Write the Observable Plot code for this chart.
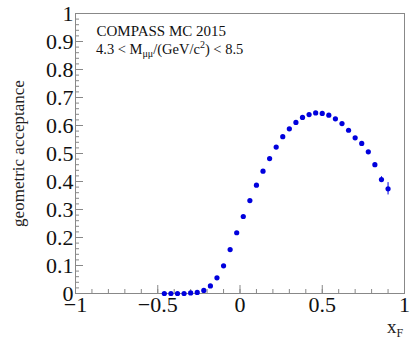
<!DOCTYPE html>
<html>
<head>
<meta charset="utf-8">
<script src="https://cdn.jsdelivr.net/npm/d3@7"></script>
<script src="https://cdn.jsdelivr.net/npm/@observablehq/plot@0.6"></script>
<style>
  html, body { margin: 0; padding: 0; background: #fff; }
  #chart { width: 414px; height: 346px; }
  #chart svg text { font-family: 'Liberation Serif', 'Times New Roman', serif !important; }
</style>
</head>
<body>
<div id="chart"></div>
<script>
const xF = [-0.46, -0.42, -0.38, -0.34, -0.30, -0.26, -0.22, -0.18, -0.14, -0.10,
            -0.06, -0.02, 0.02, 0.06, 0.10, 0.14, 0.18, 0.22, 0.26, 0.30,
            0.34, 0.38, 0.42, 0.46, 0.50, 0.54, 0.58, 0.62, 0.66, 0.70,
            0.74, 0.78, 0.82, 0.86, 0.90];
const acceptance = [0.000, 0.000, 0.000, 0.000, 0.002, 0.004, 0.011, 0.027, 0.056, 0.099,
                    0.157, 0.217, 0.275, 0.332, 0.387, 0.437, 0.482, 0.523, 0.560, 0.588,
                    0.611, 0.629, 0.639, 0.645, 0.643, 0.637, 0.624, 0.607, 0.583, 0.556,
                    0.536, 0.506, 0.460, 0.407, 0.374];
const errors = [0, 0, 0, 0, 0, 0, 0, 0, 0, 0,
                0, 0, 0, 0, 0, 0, 0, 0, 0, 0,
                0, 0, 0, 0, 0, 0, 0, 0, 0, 0,
                0, 0, 0.006, 0.010, 0.022];
const xMajorTicks = [-1, -0.5, 0, 0.5, 1];
const xMinorTicks = d3.range(-10, 11).map(i => i / 10);
const yMajorTicks = d3.range(0, 11).map(i => i / 10);
const yMinorTicks = d3.range(0, 51).map(i => i / 50);
const yTitle = "geometric acceptance";
const title1 = "COMPASS MC 2015";

const data = xF.map((x, i) => ({x, y: acceptance[i], e: errors[i]}));
const font = "'Liberation Serif', 'Times New Roman', serif";
const blue = "#0000dd";
const fmt = d => String(d).replace("-", "\u2212");

const chart = Plot.plot({
  width: 414,
  height: 346,
  marginLeft: 75,
  marginRight: 10,
  marginTop: 13,
  marginBottom: 53,
  style: {fontFamily: font, background: "#fff", color: "#000"},
  x: {domain: [-1, 1]},
  y: {domain: [0, 1]},
  marks: [
    Plot.axisX({ticks: xMinorTicks, tickSize: -4, text: null, stroke: "#888", label: null}),
    Plot.axisX({ticks: xMajorTicks, tickSize: -8, text: null, stroke: "#888", label: null}),
    Plot.axisX({ticks: xMajorTicks, tickSize: 0, tickPadding: 3, fontSize: 22, tickFormat: fmt, fill: "#111", label: null}),
    Plot.axisY({ticks: yMinorTicks, tickSize: -4, text: null, stroke: "#888", label: null}),
    Plot.axisY({ticks: yMajorTicks, tickSize: 0, tickPadding: 2, fontSize: 22, tickFormat: fmt, fill: "#111", label: null}),
    Plot.axisY({ticks: yMajorTicks, tickSize: -8, text: null, stroke: "#888", label: null}),
    Plot.frame({stroke: "#888"}),
    Plot.text([yTitle], {frameAnchor: "left", textAnchor: "middle", rotate: -90, dx: -57, fontSize: 17, fill: "#222"}),
    Plot.ruleX(data.filter(d => d.e > 0), {x: "x", y1: d => d.y - d.e, y2: d => d.y + d.e, stroke: blue, strokeWidth: 1}),
    Plot.dot(data, {x: "x", y: "y", r: 2.6, fill: blue, stroke: "none"}),
    Plot.text([title1], {frameAnchor: "top-left", dx: 21, dy: 12, fontSize: 15, textAnchor: "start", fill: "#111"})
  ]
});

document.getElementById("chart").appendChild(chart);

const svg = d3.select(chart);
svg.selectAll("g").attr("font-family", font);
// second annotation line with sub/superscripts
const t2 = svg.append("text")
  .attr("x", 96).attr("y", 54).attr("text-anchor", "start")
  .attr("font-size", 14.5).attr("fill", "#111");
t2.append("tspan").text("4.3 < M");
t2.append("tspan").attr("font-size", 10).attr("dy", 3).text("μμ");
t2.append("tspan").attr("dy", -3).text("/(GeV/c");
t2.append("tspan").attr("font-size", 10).attr("dy", -6).text("2");
t2.append("tspan").attr("dy", 6).text(") < 8.5");

// x axis title
const tx = svg.append("text")
  .attr("x", 387).attr("y", 333).attr("text-anchor", "start")
  .attr("font-size", 19).attr("fill", "#222");
tx.append("tspan").text("x");
tx.append("tspan").attr("font-size", 12).attr("dy", 4).text("F");
</script>
</body>
</html>
